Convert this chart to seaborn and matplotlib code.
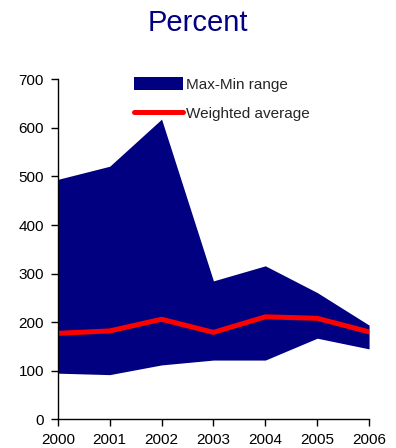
import matplotlib
matplotlib.use("Agg")
import matplotlib.pyplot as plt
import pandas as pd
import seaborn as sns

years = [2000, 2001, 2002, 2003, 2004, 2005, 2006]
max_vals = [494, 521, 618, 285, 316, 261, 194]
min_vals = [95, 92, 112, 122, 122, 167, 145]
weighted_avg = [177, 182, 206, 179, 211, 208, 180]

df = pd.DataFrame({"year": years, "max": max_vals, "min": min_vals, "avg": weighted_avg})

sns.set_theme(style="ticks")
plt.rcParams["font.family"] = ["Liberation Sans", "DejaVu Sans"]

navy = "#000080"
red = "#ff0000"

fig = plt.figure(figsize=(3.96, 4.48), dpi=100)
ax = fig.add_axes([0.146, 0.064, 0.786, 0.759])

ax.fill_between(df["year"], df["min"], df["max"], color=navy, linewidth=0, label="Max-Min range")
sns.lineplot(data=df, x="year", y="avg", color=red, linewidth=3.6, ax=ax,
             label="Weighted average", solid_capstyle="round")

ax.set_xlim(2000, 2006)
ax.set_ylim(0, 700)
ax.set_xticks(years)
ax.set_yticks(range(0, 701, 100))
ax.set_xlabel("")
ax.set_ylabel("")
ax.tick_params(axis="both", labelsize=11, length=5, width=1, color="black", labelcolor="black", pad=5)
for s in ["top", "right"]:
    ax.spines[s].set_visible(False)
for s in ["left", "bottom"]:
    ax.spines[s].set_color("black")
    ax.spines[s].set_linewidth(1)

ax.legend(loc="upper left", bbox_to_anchor=(0.22, 1.03), frameon=False, fontsize=11,
          handlelength=3.2, handleheight=1.0, handletextpad=0.2, labelspacing=0.9, borderpad=0)

fig.suptitle("Percent", color=navy, fontsize=21, y=0.98)

fig.savefig("out.png", dpi=100)
